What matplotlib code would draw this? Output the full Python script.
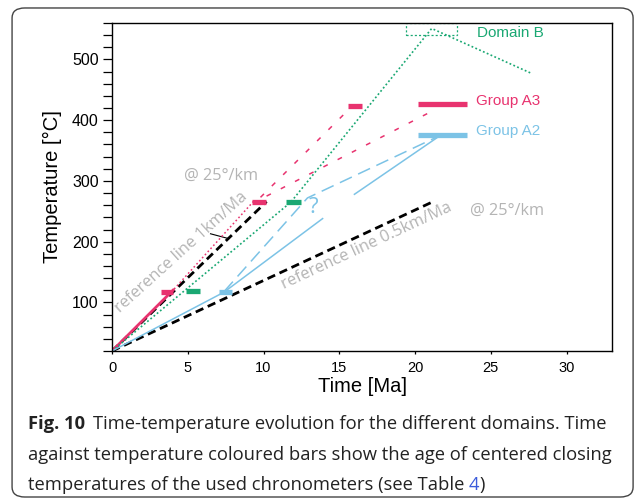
import numpy as np
import matplotlib
matplotlib.use("Agg")
import matplotlib.pyplot as plt
from matplotlib.patches import FancyBboxPatch, Rectangle

plt.rcParams['lines.scale_dashes'] = False

# --- data (time in Ma, temperature in degC) ---
ref1_t = [0, 10.2]
ref1_T = [20, 266]
ref05_t = [0, 21.2]
ref05_T = [20, 266]
pointer_t = [6.5, 7.7]
pointer_T = [213, 205]

a3_solid_t = [0, 4.1]
a3_solid_T = [20, 122]
a3_dot_t = [4.1, 9.4]
a3_dot_T = [122, 268]
a3_dash1_t = [9.8, 15.4]
a3_dash1_T = [273, 412]
a3_dash2_t = [10.2, 20.9]
a3_dash2_T = [275, 412]

green_t = [0, 11.8, 21.1, 27.6]
green_T = [20, 265, 551, 478]

a2_solid0_t = [0, 7.25]
a2_solid0_T = [20, 115]
a2_dash_t = [7.4, 12.9, 21.5]
a2_dash_T = [118, 272, 373]
a2_solid1_t = [7.4, 13.9]
a2_solid1_T = [117, 238]
a2_solid2_t = [16.0, 21.5]
a2_solid2_T = [278, 372]

# closing temperature bars: (t_start, t_end, T)
pink_bars = [(3.25, 4.0, 117), (9.25, 10.15, 265), (15.6, 16.5, 424), (20.2, 23.4, 426)]
green_bars = [(4.9, 5.8, 118), (11.5, 12.45, 265)]
blue_bars = [(7.05, 7.95, 117), (20.2, 23.4, 376)]

domainB_box = (19.4, 22.8, 541, 560)

PINK = "#e8336f"
GREEN = "#1aa873"
BLUE = "#7cc3e6"
GRAY = "#b4b4b4"

fig = plt.figure(figsize=(6.35, 4.99), dpi=100)
fig.patches.append(FancyBboxPatch((0.019, 0.004), 0.978, 0.98,
                                  boxstyle="round,pad=0,rounding_size=0.02",
                                  transform=fig.transFigure, fill=False,
                                  ec="#444444", lw=1.0))
ax = fig.add_axes([0.1764, 0.2966, 0.7874, 0.6573])

# reference lines
ax.plot(ref1_t, ref1_T, color="black", lw=2.0, dashes=(6, 3.5))
ax.plot(ref05_t, ref05_T, color="black", lw=2.0, dashes=(6, 3.5))
ax.plot(pointer_t, pointer_T, color="black", lw=0.8)

# group A3 (pink)
ax.plot(a3_solid_t, a3_solid_T, color=PINK, lw=2.0, solid_capstyle="butt")
ax.plot(a3_dot_t, a3_dot_T, color=PINK, lw=1.1, dashes=(1.2, 1.8))
ax.plot(a3_dash1_t, a3_dash1_T, color=PINK, lw=1.1, dashes=(3.5, 8))
ax.plot(a3_dash2_t, a3_dash2_T, color=PINK, lw=1.1, dashes=(3.5, 8))

# domain B (green)
ax.plot(green_t, green_T, color=GREEN, lw=1.2, dashes=(1.3, 1.7))
bx0, bx1, by0, by1 = domainB_box
ax.add_patch(Rectangle((bx0, by0), bx1 - bx0, by1 - by0, fill=False,
                       ec=GREEN, lw=0.9, ls=(0, (1.5, 1.5))))

# group A2 (blue)
ax.plot(a2_solid0_t, a2_solid0_T, color=BLUE, lw=1.1)
ax.plot(a2_dash_t, a2_dash_T, color=BLUE, lw=1.1, dashes=(9.5, 5))
ax.plot(a2_solid1_t, a2_solid1_T, color=BLUE, lw=1.1)
ax.plot(a2_solid2_t, a2_solid2_T, color=BLUE, lw=1.1)

# bars
for bars, c in [(pink_bars, PINK), (green_bars, GREEN), (blue_bars, BLUE)]:
    for t0, t1, T in bars:
        ax.plot([t0, t1], [T, T], color=c, lw=3.8, solid_capstyle="butt", zorder=5)

# annotations
gfont = dict(family="Open Sans", color=GRAY, fontsize=11.8)
ax.text(4.55, 183, "reference line 1km/Ma", rotation=42, ha="center", va="center",
        rotation_mode="anchor", **gfont)
ax.text(16.8, 193, "reference line 0.5km/Ma", rotation=25, ha="center", va="center",
        rotation_mode="anchor", **gfont)
ax.text(7.2, 308, "@ 25°/km", ha="center", va="center", **gfont)
ax.text(26.1, 250, "@ 25°/km", ha="center", va="center", **gfont)
ax.text(13.3, 256, "?", ha="center", va="center", color=BLUE, fontsize=16,
        family="Open Sans")

lfont = dict(family="Liberation Sans", fontsize=11)
ax.text(24.1, 543, "Domain B", color=GREEN, va="center", **lfont)
ax.text(24.0, 432, "Group A3", color=PINK, va="center", **lfont)
ax.text(24.0, 382, "Group A2", color=BLUE, va="center", **lfont)

# axes
ax.set_xlim(0, 33)
ax.set_ylim(20, 560)
ax.set_xticks(np.arange(0, 31, 5))
ax.set_yticks(np.arange(100, 501, 100))
ax.set_yticks(np.arange(20, 561, 20), minor=True)
ax.tick_params(axis="y", which="both", direction="out", length=6.5, width=0.9,
               labelsize=11.5, pad=3)
ax.tick_params(axis="x", which="major", direction="out", length=2, width=0.9,
               labelsize=10.5, pad=5)
for lab in ax.get_xticklabels() + ax.get_yticklabels():
    lab.set_family("Liberation Sans")
for s in ax.spines.values():
    s.set_linewidth(1.0)
ax.set_xlabel("Time [Ma]", family="Liberation Sans", fontsize=14.5, labelpad=2)
ax.set_ylabel("Temperature [°C]", family="Liberation Sans", fontsize=14.5, labelpad=7)

# caption
cfont = dict(family="Open Sans", fontsize=13.2, color="#222222", va="center")
x0 = 0.044
fig.canvas.draw()
r = fig.canvas.get_renderer()
t = fig.text(x0, 0.150, "Fig. 10", weight="bold", **cfont)
x1 = fig.transFigure.inverted().transform((t.get_window_extent(r).x1, 0))[0]
fig.text(x1 + 0.012, 0.150,
         "Time-temperature evolution for the different domains. Time", **cfont)
fig.text(x0, 0.088,
         "against temperature coloured bars show the age of centered closing", **cfont)
t = fig.text(x0, 0.028, "temperatures of the used chronometers (see Table ", **cfont)
x1 = fig.transFigure.inverted().transform((t.get_window_extent(r).x1, 0))[0]
t = fig.text(x1, 0.028, "4", **dict(cfont, color="#3b5bdb"))
x1 = fig.transFigure.inverted().transform((t.get_window_extent(r).x1, 0))[0]
fig.text(x1, 0.028, ")", **cfont)

fig.savefig("out.png", dpi=100)
